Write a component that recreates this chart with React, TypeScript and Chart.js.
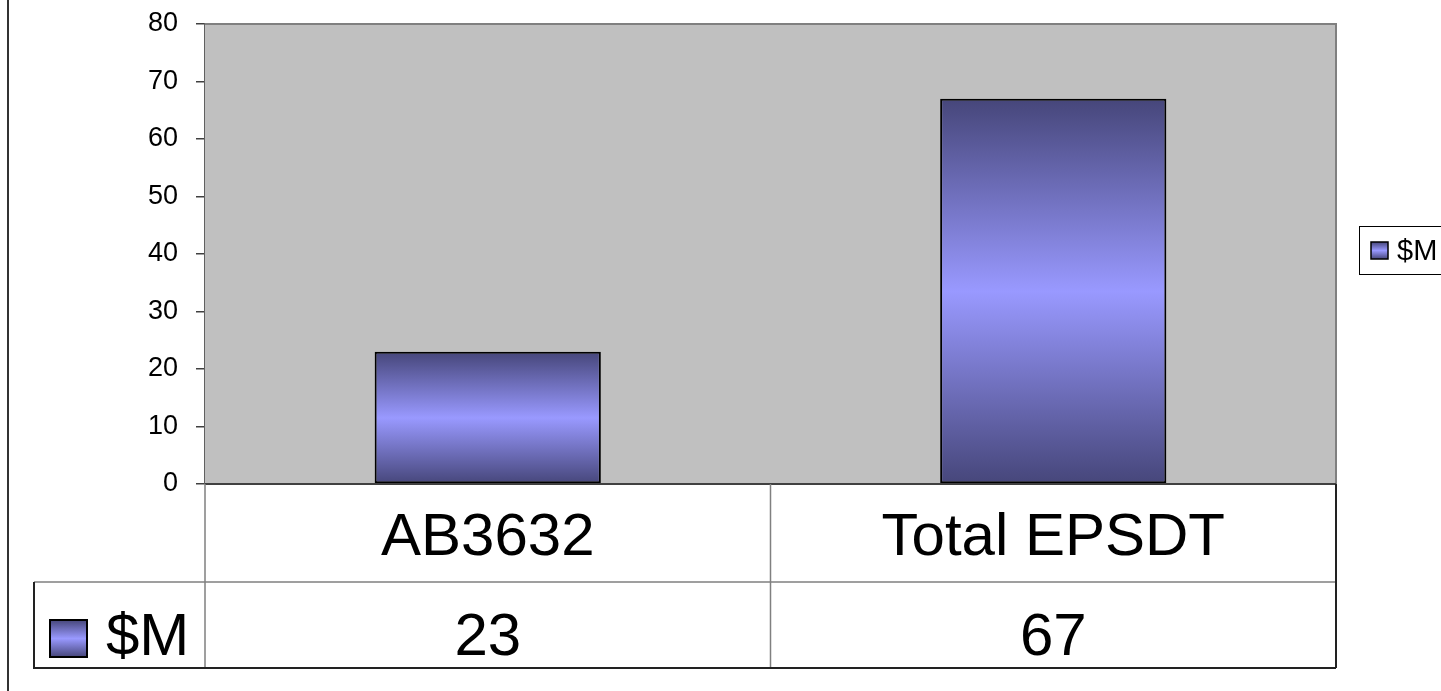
import React, { useEffect, useRef } from "react";
import { Chart, registerables } from "chart.js";

Chart.register(...registerables);

const categories: string[] = ["AB3632", "Total EPSDT"];
const seriesName = "$M";
const seriesValues: number[] = [23, 67];
const yTicks: number[] = [0, 10, 20, 30, 40, 50, 60, 70, 80];

const FONT = '"Liberation Sans", Arial, sans-serif';
const DARK = "#46467a";
const LIGHT = "#9999ff";

function barGradient(c: CanvasRenderingContext2D, top: number, bottom: number) {
  const g = c.createLinearGradient(0, top, 0, bottom);
  g.addColorStop(0, DARK);
  g.addColorStop(0.5, LIGHT);
  g.addColorStop(1, DARK);
  return g;
}

const framePlugin = {
  id: "excelFrame",
  beforeDatasetsDraw(chart: any) {
    const { ctx, chartArea } = chart;
    const { left, top, right, bottom } = chartArea;
    ctx.save();
    ctx.fillStyle = "#c0c0c0";
    ctx.fillRect(left, top, right - left, bottom - top);
    ctx.strokeStyle = "#808080";
    ctx.lineWidth = 2;
    ctx.beginPath();
    ctx.moveTo(left, top);
    ctx.lineTo(right, top);
    ctx.lineTo(right, bottom);
    ctx.stroke();
    ctx.restore();
  },
  afterDraw(chart: any) {
    const { ctx, chartArea, scales } = chart;
    const { left, right, bottom } = chartArea;
    const xs = scales.x;
    const H = chart.height;
    ctx.save();
    // left outer line
    ctx.strokeStyle = "#333";
    ctx.lineWidth = 2;
    ctx.beginPath();
    ctx.moveTo(8, 0);
    ctx.lineTo(8, H);
    ctx.stroke();

    const row1Bottom = 582;
    const row2Bottom = 668;
    const tableLeft = 34;

    // x axis line
    ctx.strokeStyle = "#404040";
    ctx.lineWidth = 2;
    ctx.beginPath();
    ctx.moveTo(left, bottom);
    ctx.lineTo(right, bottom);
    ctx.stroke();

    // column boundaries
    const n = categories.length;
    const bounds: number[] = [left];
    for (let i = 0; i < n - 1; i++) {
      bounds.push((xs.getPixelForValue(i) + xs.getPixelForValue(i + 1)) / 2);
    }
    bounds.push(right);

    ctx.strokeStyle = "#808080";
    ctx.lineWidth = 1.5;
    ctx.beginPath();
    for (let i = 0; i < bounds.length - 1; i++) {
      ctx.moveTo(bounds[i], bottom);
      ctx.lineTo(bounds[i], row2Bottom);
    }
    ctx.moveTo(tableLeft, row1Bottom);
    ctx.lineTo(right, row1Bottom);
    ctx.stroke();

    ctx.strokeStyle = "#222";
    ctx.lineWidth = 2;
    ctx.beginPath();
    ctx.moveTo(right, bottom);
    ctx.lineTo(right, row2Bottom);
    ctx.moveTo(tableLeft, row1Bottom);
    ctx.lineTo(tableLeft, row2Bottom);
    ctx.lineTo(right, row2Bottom);
    ctx.stroke();

    // texts
    ctx.fillStyle = "#000";
    ctx.font = `60px ${FONT}`;
    ctx.textAlign = "center";
    ctx.textBaseline = "alphabetic";
    categories.forEach((c, i) => {
      ctx.fillText(c, xs.getPixelForValue(i), 555);
    });
    seriesValues.forEach((v, i) => {
      ctx.fillText(String(v), xs.getPixelForValue(i), 655);
    });

    // table legend key
    const kx = 50, ky = 620, ks = 37;
    ctx.fillStyle = barGradient(ctx, ky, ky + ks);
    ctx.fillRect(kx, ky, ks, ks);
    ctx.strokeStyle = "#000";
    ctx.lineWidth = 2;
    ctx.strokeRect(kx, ky, ks, ks);
    ctx.fillStyle = "#000";
    ctx.textAlign = "left";
    ctx.fillText(seriesName, 106, 655);

    // right legend
    ctx.fillStyle = "#fff";
    ctx.fillRect(1359, 226, 120, 48);
    ctx.strokeStyle = "#000";
    ctx.lineWidth = 1;
    ctx.strokeRect(1359.5, 226.5, 120, 48);
    const lx = 1371, ly = 242, ls = 17;
    ctx.fillStyle = barGradient(ctx, ly, ly + ls);
    ctx.fillRect(lx, ly, ls, ls);
    ctx.strokeStyle = "#000";
    ctx.lineWidth = 1.5;
    ctx.strokeRect(lx, ly, ls, ls);
    ctx.fillStyle = "#000";
    ctx.font = `29px ${FONT}`;
    ctx.textBaseline = "alphabetic";
    ctx.fillText(seriesName, 1397, 260);
    ctx.restore();
  },
};

export default function App() {
  const ref = useRef<HTMLCanvasElement | null>(null);
  useEffect(() => {
    if (!ref.current) return;
    const chart = new Chart(ref.current, {
      type: "bar",
      data: {
        labels: categories,
        datasets: [
          {
            label: seriesName,
            data: seriesValues,
            backgroundColor: (c: any) => {
              const ch = c.chart;
              if (!ch.chartArea || c.type !== "data") return LIGHT;
              const ys = ch.scales.y;
              const top = ys.getPixelForValue(c.raw as number);
              const bot = ys.getPixelForValue(0);
              return barGradient(ch.ctx, top, bot);
            },
            borderColor: "#000",
            borderWidth: 2,
            borderSkipped: false,
            barPercentage: 0.4,
            categoryPercentage: 1.0,
          },
        ],
      },
      options: {
        responsive: false,
        animation: false,
        devicePixelRatio: 1,
        layout: { padding: { top: 24, right: 105, bottom: 0, left: 0 } },
        plugins: {
          legend: { display: false },
          tooltip: { enabled: false },
        },
        scales: {
          x: {
            type: "category",
            ticks: { display: false },
            grid: { display: false },
            border: { display: false },
            afterFit: (s: any) => {
              s.height = 207;
            },
          },
          y: {
            min: 0,
            max: 80,
            afterBuildTicks: (s: any) => {
              s.ticks = yTicks.map((v) => ({ value: v }));
            },
            ticks: {
              color: "#000",
              font: { family: FONT, size: 27 },
              padding: 18,
            },
            grid: {
              drawOnChartArea: false,
              drawTicks: true,
              tickLength: 9,
              color: "#404040",
              lineWidth: 1.5,
            },
            border: { display: true, color: "#606060", width: 2 },
            afterFit: (s: any) => {
              s.width = 205;
              s.paddingTop = 0;
              s.paddingBottom = 0;
            },
          },
        },
      },
      plugins: [framePlugin],
    });
    return () => chart.destroy();
  }, []);
  return (
    <div style={{ position: "fixed", left: 0, top: 0, width: 1441, height: 691, background: "#fff" }}>
      <canvas ref={ref} width={1441} height={691} style={{ display: "block" }} />
    </div>
  );
}
